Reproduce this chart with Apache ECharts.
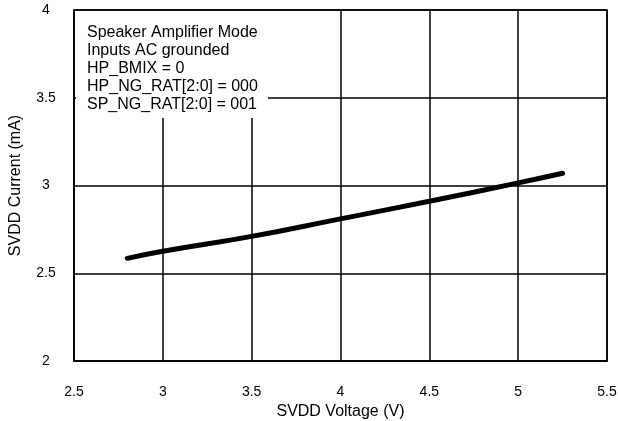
<!DOCTYPE html>
<html>
<head>
<meta charset="utf-8">
<script src="https://cdn.jsdelivr.net/npm/echarts@6/dist/echarts.min.js"></script>
<style>
  html, body { margin: 0; padding: 0; background: #fff; }
  #main { width: 618px; height: 421px; }
</style>
</head>
<body>
<div id="main"></div>
<script>
const voltage = [2.8, 3.0, 3.5, 4.0, 4.5, 5.0, 5.25]
const current = [2.585, 2.625, 2.71, 2.81, 2.91, 3.015, 3.07]
const noteLines = [
  'Speaker Amplifier Mode',
  'Inputs AC grounded',
  'HP_BMIX = 0',
  'HP_NG_RAT[2:0] = 000',
  'SP_NG_RAT[2:0] = 001'
]

const font = 'Liberation Sans, Arial, sans-serif'
const chart = echarts.init(document.getElementById('main'))

const option = {
  animation: false,
  backgroundColor: '#fff',
  grid: {
    left: 74, right: 11, top: 10, bottom: 60,
    outerBoundsMode: 'none',
    containLabel: false,
    show: true, borderColor: '#000', borderWidth: 1.5
  },
  xAxis: {
    type: 'value',
    min: 2.5, max: 5.5, interval: 0.5,
    name: 'SVDD Voltage (V)',
    nameLocation: 'middle',
    nameGap: 40,
    nameTextStyle: { color: '#000', fontSize: 16, fontFamily: font },
    axisLine: { show: true, lineStyle: { color: '#000', width: 1.5 } },
    axisTick: { show: false },
    axisLabel: { color: '#000', fontSize: 14, fontFamily: font, margin: 24 },
    splitLine: { show: true, lineStyle: { color: '#000', width: 1.5 } }
  },
  yAxis: {
    type: 'value',
    min: 2, max: 4, interval: 0.5,
    name: 'SVDD Current (mA)',
    nameLocation: 'middle',
    nameGap: 50,
    nameTextStyle: { color: '#000', fontSize: 16, fontFamily: font },
    axisLine: { show: true, lineStyle: { color: '#000', width: 1.5 } },
    axisTick: { show: false },
    axisLabel: { color: '#000', fontSize: 14, fontFamily: font, margin: 28, align: 'center' },
    splitLine: { show: true, lineStyle: { color: '#000', width: 1.5 } }
  },
  graphic: [
    {
      type: 'rect',
      left: 76, top: 11,
      shape: { width: 192, height: 107 },
      style: { fill: '#fff' },
      z: 10
    },
    {
      type: 'text',
      left: 87, top: 24,
      style: {
        text: noteLines.join('\n'),
        fontSize: 16,
        lineHeight: 18,
        fontFamily: font,
        fill: '#000'
      },
      z: 11
    }
  ],
  series: [{
    type: 'line',
    data: voltage.map((v, i) => [v, current[i]]),
    smooth: true,
    showSymbol: false,
    lineStyle: { color: '#000', width: 5, cap: 'round' }
  }]
}
chart.setOption(option)
</script>
</body>
</html>
